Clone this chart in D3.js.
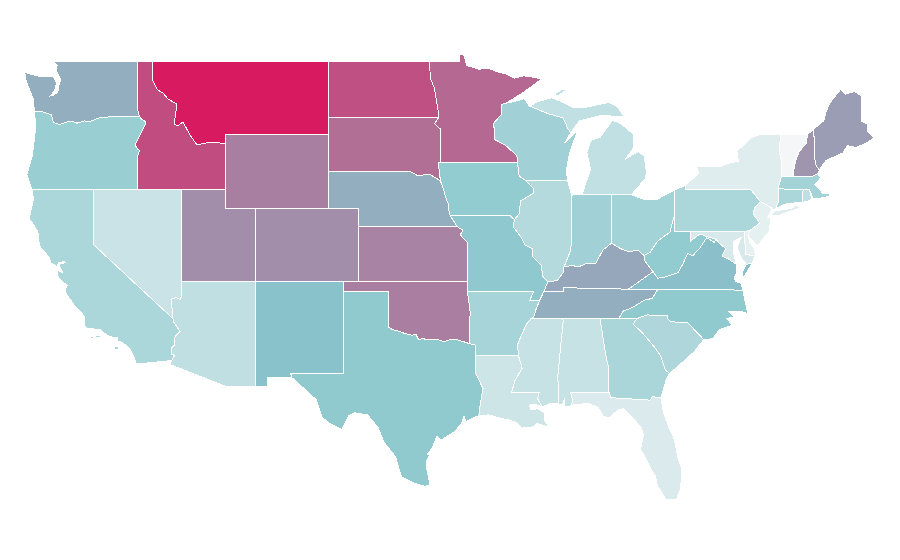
<!DOCTYPE html>
<html>
<head>
<meta charset="utf-8">
<script src="https://cdn.jsdelivr.net/npm/d3@7"></script>
<style>
  html, body { margin: 0; background: #fff; }
  path { stroke: #fff; stroke-width: 1; shape-rendering: crispEdges; }
</style>
</head>
<body>
<div id="map"></div>
<script>
const stateNames = ["VT","NJ","DE","NY","FL","MD","LA","NV","MS","AL","MI","AZ","RI","IL","SC","PA","CA","CT","GA","AR","MA","OH","WI","IN","OR","IA","WV","TX","NC","MO","NM","VA","WA","TN","NE","KY","ME","NH","UT","CO","KS","WY","OK","SD","MN","ND","ID","MT"];
const stateValues = [0,7,7,10,12,14,18,20,22,22,24,25,25,30,33,34,34,34,35,37,38,38.5,39.5,39.5,43,46.5,46.5,47.5,47.5,48,50,50.5,56,56,56,58,61,63.5,65.5,65.5,69,70,70.5,75,77,84,85,100];

const colorStops = [0, 47.5, 50, 100];
const colorRange = ["#f4f6f7", "#90cacf", "#8ac2cc", "#d81b60"];

// shared borders as lon/lat, so neighbouring states line up
const columbia = [[-124.05,46.27],[-123.55,46.26],[-123.2,46.15],[-122.9,46.08],[-122.8,45.85],[-122.75,45.65],[-122.3,45.55],[-121.9,45.68],[-121.5,45.72],[-121.15,45.62],[-120.65,45.74],[-120.2,45.73],[-119.6,45.92],[-119.1,45.93],[-118.98,46],[-116.92,46]];
const hellsCanyon = [[-116.92,46],[-116.78,45.85],[-116.55,45.75],[-116.46,45.6],[-116.67,45.3],[-116.85,45],[-117.2,44.45],[-117.05,44.23],[-116.9,44.15],[-117.03,43.83],[-117.03,42]];
const bitterroot = [[-116.05,49],[-116.05,48],[-115.7,47.45],[-115.3,47.25],[-114.95,46.93],[-114.35,46.65],[-114.55,45.56],[-114.3,45.48],[-113.94,45.69],[-113.45,44.95],[-113,44.45],[-112.3,44.55],[-111.5,44.55],[-111.05,44.48]];
const coloradoNV = [[-114.04,37],[-114.05,36.2],[-114.15,36.03],[-114.4,36.15],[-114.74,36.05],[-114.63,35]];
const coloradoCA = [[-114.63,35],[-114.57,34.8],[-114.14,34.3],[-114.43,34.08],[-114.53,33.9],[-114.53,33.55],[-114.72,33.4],[-114.7,33.05],[-114.5,33],[-114.72,32.72]];
const redRiver = [[-100,34.56],[-99.7,34.4],[-99.2,34.3],[-98.9,34.2],[-98.4,34.1],[-98.1,34.13],[-97.95,33.88],[-97.6,33.9],[-97.2,33.85],[-96.9,33.85],[-96.6,33.85],[-96.2,33.75],[-95.8,33.85],[-95.4,33.87],[-94.9,33.75],[-94.48,33.64]];
const sabine = [[-94.04,33.02],[-94.04,31.99],[-93.55,31.2],[-93.7,30.55],[-93.85,29.7]];
const redNorth = [[-97.23,49],[-97.1,48],[-96.85,47.5],[-96.6,46.3],[-96.56,45.94]];
const neTop = [[-104.05,43],[-98.5,43],[-98,42.77],[-97.2,42.85],[-96.45,42.49]];
const missouriNE = [[-96.45,42.49],[-96.25,42.05],[-96.1,41.6],[-95.9,41.2],[-95.85,40.7],[-95.77,40.58]];
const missouriKS = [[-95.77,40.58],[-95.31,40],[-94.92,39.8],[-95.1,39.55],[-94.6,39.12]];
const stCroix = [[-92.3,46.65],[-92.3,46.1],[-92.85,45.6],[-92.75,45.1],[-92.8,44.75],[-92,44.4],[-91.25,43.85],[-91.22,43.5]];
const missIAWI = [[-91.22,43.5],[-91.1,42.75],[-90.65,42.5]];
const missIAIL = [[-90.65,42.5],[-90.15,42.1],[-90.15,41.8],[-91,41.4],[-91.1,40.7],[-91.42,40.38]];
const missMOIL = [[-91.42,40.38],[-91.5,40],[-90.95,39.4],[-90.7,39],[-90.2,38.8],[-90.2,38.4],[-89.6,37.9],[-89.5,37.3],[-89.15,37]];
const missMOKY = [[-89.15,37],[-89.4,36.5]];
const missMOTN = [[-89.4,36.5],[-89.7,36]];
const missARTN = [[-89.7,36],[-89.95,35.5],[-90.1,35.1],[-90.3,35]];
const missARMS = [[-90.3,35],[-90.6,34.7],[-91,34],[-91.2,33.6],[-91.15,33]];
const missLAMS = [[-91.15,33],[-91,32.6],[-90.9,32.3],[-91.4,31.6],[-91.6,31]];
const pearl = [[-91.6,31],[-89.73,31],[-89.85,30.65],[-89.55,30.2]];
const ohioIL = [[-89.15,37],[-88.5,37.07],[-88.1,37.5],[-88.05,37.8]];
const wabash = [[-88.05,37.8],[-87.95,38],[-87.6,38.7],[-87.53,39.35],[-87.53,41.7]];
const ohioIN = [[-88.05,37.8],[-87.5,37.9],[-87.1,37.8],[-86.5,38],[-85.9,38],[-85.4,38.73],[-84.82,39.1]];
const ohioOH = [[-84.82,39.1],[-84.2,38.8],[-83.7,38.65],[-83,38.7],[-82.6,38.42]];
const ohioWV = [[-82.6,38.42],[-82.2,38.6],[-81.7,39.2],[-80.85,39.7],[-80.65,40.35],[-80.52,40.64]];
const kyWV = [[-82.6,38.42],[-82.6,38.17],[-82,37.55]];
const kyVA = [[-82,37.55],[-83.67,36.6]];
const kyTN = [[-83.67,36.6],[-86.5,36.65],[-88.07,36.68],[-88.07,36.5],[-89.4,36.5]];
const tnNC = [[-81.68,36.59],[-82.05,36.1],[-82.6,36],[-83.1,35.75],[-83.5,35.57],[-84.05,35.4],[-84.32,35]];
const vaWV = [[-82,37.55],[-81.68,37.2],[-81.2,37.25],[-80.3,37.5],[-79.95,38],[-79.65,38.55],[-79.3,38.42],[-78.85,38.8],[-78.35,39.4],[-77.83,39.13],[-77.73,39.32]];
const potomac = [[-77.73,39.32],[-77.5,39.1],[-77.05,38.8],[-77.3,38.4],[-76.9,38.25],[-76.35,37.95]];
const mdWV = [[-77.73,39.32],[-78.35,39.45],[-78.8,39.6],[-79.48,39.2],[-79.48,39.72]];
const savannah = [[-83.1,35],[-83.35,34.7],[-82.75,34.25],[-81.95,33.5],[-81.5,33],[-81.15,32.2],[-80.88,32.03]];
const ncSC = [[-83.1,35],[-82.4,35.2],[-81.05,35.15],[-81.05,35.05],[-80.8,34.82],[-79.67,34.8],[-78.55,33.86]];
const gaFL = [[-85,31],[-84.85,30.7],[-82.2,30.57],[-82.05,30.75],[-81.45,30.71]];
const gaAL = [[-85.6,34.98],[-85.18,32.87],[-85,32.3],[-85.05,31.55],[-85,31]];
const msAL = [[-88.2,35],[-88.1,34.9],[-88.47,31.9],[-88.4,30.35]];
const delaware = [[-74.7,41.36],[-75.1,41],[-75.2,40.7],[-74.75,40.2],[-75.4,39.8]];
const nyNJ = [[-74.7,41.36],[-73.9,41]];
const nyNE = [[-73.35,45],[-73.4,44],[-73.25,43.55],[-73.27,42.75]];
const nyCT = [[-73.5,42.05],[-73.5,41.3],[-73.65,41]];
const vtNH = [[-71.5,45],[-71.6,44.5],[-72.05,44.1],[-72.3,43.6],[-72.45,43],[-72.46,42.73]];
const nhME = [[-71.08,45.3],[-70.98,43.4],[-70.7,43.07]];
const maNorth = [[-73.27,42.75],[-72.46,42.73],[-71.3,42.7],[-70.8,42.87]];
const lakeErieOH = [[-84.8,41.73],[-83.45,41.73]];
const wiMI = [[-90.4,46.55],[-89.1,46.13],[-88.1,45.9],[-87.8,45.35],[-87.6,45.1]];

const rev = a => a.slice().reverse();

const stateRings = {
  WA: [[[-117.03,49],[-122.76,49],[-122.5,48.75],[-122.55,48.45],[-122.25,48],[-122.4,47.6],[-122.45,47.3],[-122.75,47.15],[-122.95,47.1],[-122.6,47.5],[-122.55,47.85],[-122.75,48.15],[-123.15,48.15],[-123.75,48.17],[-124.7,48.38],[-124.6,47.9],[-124.3,47.3],[-124.1,46.9],[-124.05,46.27],...columbia,[-117.04,46.42]]],
  OR: [[...columbia,...hellsCanyon,[-124.21,42],[-124.55,42.84],[-124.2,43.8],[-124.05,44.7],[-123.95,45.5]]],
  ID: [[[-117.03,49],[-116.05,49],...bitterroot,[-111.05,42],...rev(hellsCanyon),[-117.04,46.42]]],
  MT: [[[-104.05,49],...bitterroot,[-111.05,45],[-104.05,45]]],
  WY: [[[-111.05,45],[-104.05,45],[-104.05,41],[-111.05,41]]],
  CA: [[[-124.21,42],[-120,42],[-120,39],...coloradoCA,[-117.12,32.53],[-117.25,32.9],[-117.6,33.4],[-118.1,33.72],[-118.4,33.75],[-118.4,34],[-118.8,34],[-119.2,34.15],[-119.6,34.42],[-120.45,34.45],[-120.63,34.6],[-120.65,35.1],[-120.85,35.35],[-121.3,35.7],[-121.85,36.3],[-121.95,36.55],[-121.8,36.8],[-122.05,36.95],[-122.4,37.2],[-122.5,37.5],[-122.5,37.7],[-122.4,37.6],[-122.1,37.5],[-122.35,37.85],[-122.3,38],[-121.9,38.03],[-122,38.1],[-122.4,38.05],[-122.5,37.83],[-122.95,38.05],[-123,38.3],[-123.7,38.95],[-123.8,39.7],[-124.1,40.1],[-124.4,40.44],[-124.1,41.5]],
       [[-119.92,34.07],[-119.55,34.07],[-119.55,33.97],[-119.92,33.97]],
       [[-120.2,34.02],[-120.05,34.02],[-120.05,33.92],[-120.2,33.92]],
       [[-118.6,33.48],[-118.35,33.48],[-118.35,33.32],[-118.6,33.32]]],
  NV: [[[-120,42],[-114.04,42],...coloradoNV,[-120,39]]],
  UT: [[[-114.04,42],[-111.05,42],[-111.05,41],[-109.05,41],[-109.05,37],[-114.04,37]]],
  AZ: [[...coloradoNV,...coloradoCA,[-114.81,32.5],[-111.07,31.33],[-109.05,31.33],[-109.05,37]]],
  CO: [[[-109.05,41],[-102.05,41],[-102.05,37],[-109.05,37]]],
  NM: [[[-109.05,37],[-103,37],[-103.04,36.5],[-103.06,32],[-106.62,32],[-106.53,31.78],[-108.2,31.78],[-108.2,31.33],[-109.05,31.33]]],
  TX: [[[-103.04,36.5],[-100,36.5],...redRiver,[-94.04,33.55],...sabine,[-94.1,29.65],[-94.7,29.4],[-94.85,29.7],[-95,29.3],[-95.5,28.85],[-96.4,28.4],[-96.7,28.6],[-97,28],[-97.35,27.6],[-97.2,27.6],[-97.4,27.2],[-97.4,26.9],[-97.15,25.96],[-97.5,25.88],[-98.2,26.05],[-99.1,26.4],[-99.5,27.5],[-100.3,28.3],[-100.7,29.1],[-101.4,29.77],[-102.3,29.88],[-102.7,29.7],[-103.15,28.98],[-104,29.3],[-104.5,29.65],[-104.9,30.6],[-106,31.4],[-106.53,31.78],[-106.62,32],[-103.06,32]]],
  OK: [[[-103,37],[-94.62,37],[-94.62,36.5],[-94.43,35.39],...rev(redRiver),[-100,36.5],[-103.04,36.5]]],
  KS: [[[-102.05,40],...missouriKS.slice(1),[-94.62,37],[-102.05,37]]],
  NE: [[...neTop,...missouriNE,[-95.31,40],[-102.05,40],[-102.05,41],[-104.05,41]]],
  SD: [[[-104.05,45.94],[-96.56,45.94],[-96.85,45.6],[-96.45,45.3],[-96.45,43.5],[-96.6,43.5],...rev(neTop)]],
  ND: [[[-104.05,49],...redNorth,[-104.05,45.94]]],
  MN: [[[-97.23,49],[-95.15,49],[-95.15,49.38],[-94.85,49.32],[-94.65,48.75],[-93.8,48.55],[-93.3,48.62],[-92.5,48.4],[-92,48.3],[-91.4,48.07],[-90.8,48.2],[-90,48.1],[-89.6,48],[-90.8,47.3],[-92,46.7],...stCroix,[-96.45,43.5],[-96.45,45.3],[-96.85,45.6],...rev(redNorth)]],
  IA: [[[-96.6,43.5],...missIAWI,...missIAIL,[-91.73,40.6],...rev(missouriNE)]],
  MO: [[[-95.77,40.58],[-91.73,40.6],...missMOIL,...missMOKY,...missMOTN,[-90.37,36],[-90.1,36.5],[-94.62,36.5],[-94.62,37],...rev(missouriKS)]],
  AR: [[[-94.62,36.5],[-90.1,36.5],[-90.37,36],...missARTN,...missARMS,[-94.04,33.02],[-94.04,33.55],[-94.48,33.64],[-94.43,35.39]]],
  LA: [[[-94.04,33.02],...missLAMS,...pearl,[-90,30.35],[-90.4,30.3],[-90.3,30.05],[-89.85,30.1],[-89.4,29.9],[-89.4,29.55],[-89.1,29.1],[-89.45,29.2],[-89.9,29.3],[-90.2,29.1],[-90.9,29.05],[-91.3,29.35],[-91.8,29.5],[-92.2,29.55],[-93.2,29.77],...rev(sabine)]],
  WI: [[[-92,46.7],[-91.2,46.85],[-90.75,46.95],...wiMI,[-88,44.55],[-87.1,45.25],[-87.55,44.3],[-87.75,43.7],[-87.9,43],[-87.8,42.5],...rev(missIAWI),...rev(stCroix)]],
  IL: [[[-90.65,42.5],[-87.8,42.5],[-87.53,41.7],...rev(wabash),...rev(ohioIL),...rev(missMOIL),...rev(missIAIL)]],
  IN: [[[-87.53,41.7],[-87.2,41.75],[-86.8,41.76],[-84.8,41.76],[-84.82,39.1],...rev(ohioIN),...wabash]],
  MI: [[...wiMI,[-87,45.75],[-86.5,45.85],[-85.5,46.05],[-84.7,46],[-84,46],[-84.4,46.5],[-85,46.75],[-86.5,46.5],[-87.5,46.5],[-88.4,46.85],[-88.9,47],[-89.8,46.8]],
       [[-88.5,47.1],[-87.8,47.47],[-88.2,47.45],[-88.7,47.2]],
       [[-86.8,41.76],[-84.8,41.76],...lakeErieOH,[-83.15,42.05],[-82.5,42.6],[-82.45,43],[-82.6,43.85],[-83,44.07],[-83.4,43.9],[-83.9,43.65],[-83.3,44.3],[-83.3,45],[-84.2,45.6],[-84.75,45.78],[-85.1,45.4],[-85.6,44.85],[-86.2,44.7],[-86.5,44.05],[-86.25,43.1],[-86.6,42.3]]],
  OH: [[...lakeErieOH,[-82.7,41.5],[-81.7,41.5],[-80.52,41.98],[-80.52,40.64],...rev(ohioWV),...rev(ohioOH),[-84.8,41.73]]],
  KY: [[...rev(missMOKY),...ohioIL,...ohioIN,...ohioOH,...kyWV,...kyVA,...kyTN]],
  TN: [[...rev(kyTN),[-81.68,36.59],...tnNC,[-85.6,34.98],[-88.2,35],...rev(missARTN),...rev(missMOTN)]],
  MS: [[...msAL,[-88.9,30.4],[-89.55,30.2],...rev(pearl),...rev(missLAMS),...rev(missARMS)]],
  AL: [[[-88.2,35],...gaAL,[-87.6,31],[-87.45,30.5],[-87.6,30.25],[-88,30.23],[-88,30.65],[-88.15,30.35],[-88.4,30.35],[-88.47,31.9],[-88.1,34.9]]],
  GA: [[[-85.6,34.98],...savannah,[-81.1,31.7],[-81.45,30.71],...rev(gaFL),...rev(gaAL)]],
  FL: [[[-87.6,31],...gaFL,[-81.3,29.9],[-80.9,29.05],[-80.55,28.45],[-80.3,27.4],[-80.03,26.8],[-80.12,25.8],[-80.4,25.2],[-81.1,25.15],[-81.7,25.9],[-81.85,26.45],[-82.2,26.9],[-82.7,27.7],[-82.85,27.9],[-82.65,28.7],[-82.8,29.1],[-83.4,29.6],[-84,30.1],[-84.35,30.05],[-85,29.6],[-85.4,29.7],[-85.7,30.15],[-86.4,30.4],[-87.5,30.3],[-87.6,30.25],[-87.45,30.5]]],
  SC: [[...ncSC,[-79.2,33.2],[-79.9,32.7],[-80.45,32.3],...rev(savannah)]],
  NC: [[[-81.68,36.59],...tnNC,[-83.1,35],...ncSC.slice(1),[-77.95,33.9],[-77.5,34.4],[-76.6,34.65],[-77,35],[-76.5,35.1],[-76.9,35.4],[-76,35.4],[-75.55,35.25],[-75.9,36.55]]],
  VA: [[...rev(kyVA),...vaWV,...potomac,[-76.3,37.55],[-76.5,37.2],[-76.35,37],[-76,36.92],[-75.9,36.55],[-81.68,36.59]],
       [[-75.65,37.95],[-75.25,38.03],[-75.6,37.55],[-75.95,37.15],[-75.95,37.5]]],
  WV: [[[-80.52,40.64],[-80.52,39.72],...rev(mdWV),...rev(vaWV),...rev(kyWV),...ohioWV]],
  MD: [[[-79.48,39.72],[-75.8,39.72],[-75.7,38.46],[-75.05,38.45],[-75.25,38.03],[-75.65,37.95],[-76,38.3],[-76.3,38.9],[-76,39.4],[-76.5,39.2],[-76.5,38.5],...rev(potomac),...mdWV]],
  DE: [[[-75.8,39.72],[-75.4,39.8],[-75.55,39.5],[-75.4,39.1],[-75.1,38.8],[-75.05,38.45],[-75.7,38.46]]],
  PA: [[[-80.52,41.98],[-79.76,42.27],[-79.76,42],[-75.35,42],...delaware,[-75.8,39.72],[-80.52,39.72],[-80.52,40.64]]],
  NJ: [[[-75.4,39.8],[-75.55,39.5],[-75.3,39.3],[-74.9,38.95],[-74.1,39.75],[-74,40.45],[-74.2,40.5],...rev(nyNJ),...delaware.slice(1,4)]],
  NY: [[[-79.76,42.27],[-78.9,42.9],[-79.05,43.27],[-77.5,43.25],[-76.6,43.5],[-76.2,43.55],[-76.3,44.1],[-75.3,44.85],[-74.7,45],...nyNE,...nyCT,[-73.9,40.85],...rev(nyNJ),[-75.35,42],[-79.76,42]],
       [[-74,40.6],[-73.75,40.85],[-72.6,40.98],[-72.3,41.15],[-71.9,41.05],[-73.5,40.6]]],
  VT: [[...nyNE,[-72.46,42.73],...rev(vtNH)]],
  NH: [[...vtNH,[-71.3,42.7],[-70.8,42.87],...rev(nhME)]],
  ME: [[...nhME,[-70.25,43.6],[-69.8,43.75],[-69.1,44],[-68.8,44.4],[-68.2,44.3],[-67.6,44.5],[-66.97,44.82],[-67.45,45.2],[-67.45,45.6],[-67.8,45.7],[-67.8,47.07],[-68.3,47.35],[-68.9,47.2],[-69.25,47.45],[-70,46.7],[-70.25,46.2],[-70.4,45.75]]],
  MA: [[...maNorth,[-70.6,42.65],[-71,42.3],[-70.6,41.95],[-70.5,41.78],[-70.05,41.8],[-69.95,41.65],[-70.6,41.55],[-71.1,41.5],[-71.38,42.02],[-71.8,42.02],[-73.5,42.05]]],
  CT: [[[-73.5,42.05],[-71.8,42.02],[-71.85,41.32],[-72.9,41.25],...rev(nyCT)]],
  RI: [[[-71.8,42.02],[-71.38,42.02],[-71.2,41.5],[-71.5,41.37],[-71.85,41.32]]]
};

const width = 900, height = 560;

const xScale = d3.scaleLinear().domain([-109.05, -102.05]).range([255, 358]);
const yScale = d3.scaleLinear().domain([49, 45]).range([61, 134.6]);
const color = d3.scaleLinear().domain(colorStops).range(colorRange);

// map is plotted straight on lon/lat, so no spherical projection here
const flat = d3.geoTransform({
  point(lon, lat) { this.stream.point(xScale(lon), yScale(lat)); }
});
const path = d3.geoPath(flat);

const svg = d3.select("#map").append("svg")
  .attr("width", width)
  .attr("height", height)
  .style("display", "block");

const states = stateNames.map((name, i) => ({
  name,
  value: stateValues[i],
  geometry: { type: "MultiPolygon", coordinates: stateRings[name].map(ring => [[...ring, ring[0]]]) }
}));

svg.selectAll("path")
  .data(states)
  .enter()
  .append("path")
  .attr("d", d => path(d.geometry))
  .attr("fill", d => color(d.value));
</script>
</body>
</html>
